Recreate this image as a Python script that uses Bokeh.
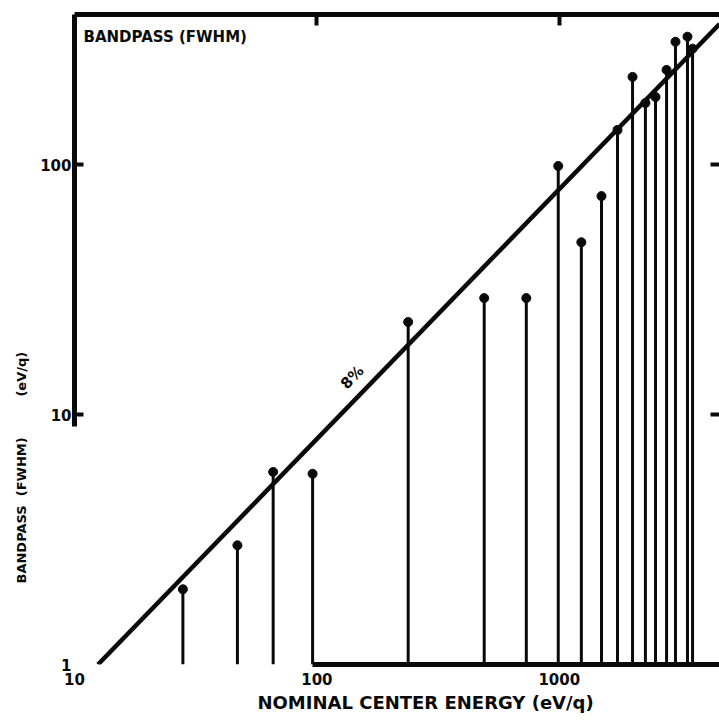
import numpy as np
from bokeh.plotting import figure
from bokeh.models import (LogAxis, FixedTicker, Label, Range1d, ColumnDataSource,
                          NumeralTickFormatter, Title)
from bokeh.embed import file_html
from bokeh.resources import INLINE

# ---- data ----
energy = [28, 47, 66, 96, 238, 490, 731, 990, 1233, 1493, 1738, 2005, 2266, 2494, 2770, 3015, 3379, 3546]
bandpass = [2.0, 3.0, 5.9, 5.8, 23.5, 29.3, 29.3, 99, 49, 75, 138, 225, 177, 187, 240, 311, 326, 292]
ref_fraction = 0.08
ref_label = "8%"
x_ticks = [10, 100, 1000]
y_ticks = [1, 10, 100]
x_limits = (10, 4580)
y_limits = (1, 400)
x_title = "NOMINAL CENTER ENERGY  (eV/q)"
y_title = "BANDPASS\u00a0\u00a0(FWHM)" + "\u00a0" * 9 + "(eV/q)"
inner_title = "BANDPASS (FWHM)"

FONT = "DejaVu Sans"
INK = "#0a0a0a"

p = figure(width=719, height=720, x_axis_type="log", y_axis_type="log",
           x_range=Range1d(*x_limits), y_range=Range1d(*y_limits),
           output_backend="svg", toolbar_location=None,
           min_border_left=74, min_border_top=14, min_border_bottom=56, min_border_right=0)
p.grid.visible = False
p.outline_line_color = None
p.background_fill_color = "white"
p.border_fill_color = "white"

def style_axis(ax, ticks, tick_in, labels=True, standoff=5, line=True):
    ax.ticker = FixedTicker(ticks=ticks)
    ax.formatter = NumeralTickFormatter(format="0")
    ax.minor_tick_line_color = None
    ax.axis_line_color = INK if line else None
    ax.axis_line_width = 5
    ax.major_tick_line_color = INK if tick_in > 0 else None
    ax.major_tick_line_width = 4
    ax.major_tick_in = tick_in
    ax.major_tick_out = 0
    ax.major_label_text_font = FONT
    ax.major_label_text_font_style = "bold"
    ax.major_label_standoff = standoff
    if labels:
        ax.major_label_text_font_size = "15px"
        ax.major_label_text_color = INK
    else:
        ax.major_label_text_font_size = "2px"
        ax.major_label_text_color = None

# bottom spine: starts at the 100 eV/q stem
xb = p.xaxis[0]
style_axis(xb, x_ticks[1:], 0, False, 0)
xb.bounds = (energy[3], x_limits[1])
xb_lab = LogAxis()
style_axis(xb_lab, x_ticks, 0, True, 8, line=False)
p.add_layout(xb_lab, "below")

# left spine: from just below 10 up to the top, ticks pointing inward
yl = p.yaxis[0]
style_axis(yl, y_ticks[1:], 9, False, 0)
yl.bounds = (9, y_limits[1])
yl_lab = LogAxis()
style_axis(yl_lab, y_ticks, 0, True, 3, line=False)
p.add_layout(yl_lab, "left")

top = LogAxis()
style_axis(top, x_ticks[1:], 11, False, 0)
p.add_layout(top, "above")

right = LogAxis()
style_axis(right, y_ticks[1:], 9, False, 0, line=False)
p.add_layout(right, "right")

# axis titles
p.add_layout(Title(text=x_title, align="left", offset=183, standoff=5,
                   text_font=FONT, text_font_style="bold", text_font_size="18px",
                   text_color=INK), "below")
p.add_layout(Title(text=y_title, align="left", offset=81, standoff=18,
                   text_font=FONT, text_font_style="bold", text_font_size="13px",
                   text_color=INK), "left")

# stems and dots
src = ColumnDataSource(dict(e=energy, b=bandpass, base=[y_limits[0]] * len(energy)))
p.segment(x0="e", y0="base", x1="e", y1="b", source=src, line_color=INK, line_width=3)
p.scatter(x="e", y="b", source=src, size=9, color=INK)

# reference line  bandpass = fraction * energy
line_x = np.array([y_limits[0] / ref_fraction, x_limits[1]])
p.line(line_x, ref_fraction * line_x, line_color=INK, line_width=4.5)

p.add_layout(Label(x=140, y=ref_fraction * 140 * 1.26, text=ref_label, angle=46, angle_units="deg",
                   text_font=FONT, text_font_style="bold", text_font_size="15px", text_color=INK,
                   text_align="center", text_baseline="middle"))

p.add_layout(Label(x=x_limits[0], y=y_limits[1], x_offset=9, y_offset=-22, text=inner_title,
                   text_font=FONT, text_font_style="bold", text_font_size="15px", text_color=INK,
                   text_align="left", text_baseline="middle"))

open("out.html", "w").write(file_html(p, INLINE))
